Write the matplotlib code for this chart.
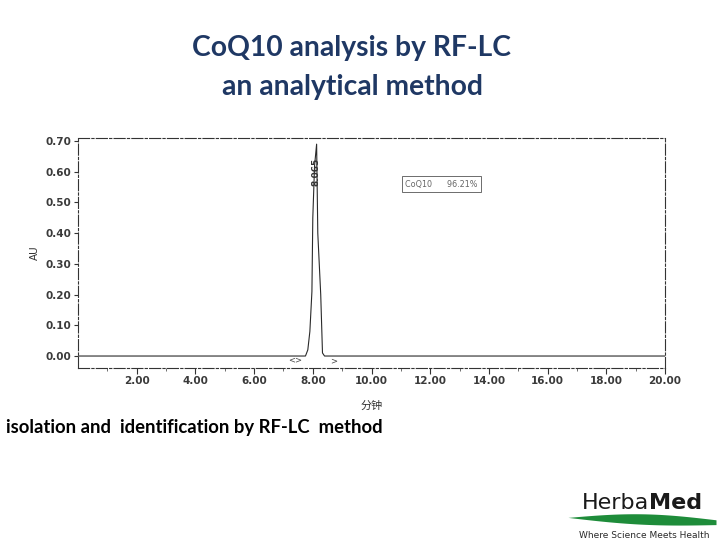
import matplotlib
matplotlib.use("Agg")
import matplotlib.pyplot as plt
import numpy as np

# ---- data ----
time_min = [0.0, 7.75, 7.83, 7.90, 7.97, 8.00, 8.06, 8.13, 8.17, 8.22, 8.27, 8.33, 8.40, 20.0]
au = [0.0, 0.0, 0.02, 0.08, 0.21, 0.45, 0.62, 0.69, 0.40, 0.30, 0.20, 0.01, 0.0, 0.0]
x_ticks = [2, 4, 6, 8, 10, 12, 14, 16, 18, 20]
x_tick_labels = ["2.00", "4.00", "6.00", "8.00", "10.00", "12.00", "14.00", "16.00", "18.00", "20.00"]
y_ticks = [0.0, 0.1, 0.2, 0.3, 0.4, 0.5, 0.6, 0.7]
y_tick_labels = ["0.00", "0.10", "0.20", "0.30", "0.40", "0.50", "0.60", "0.70"]
peak_time = 8.13
peak_label = "8.065"
legend_name = "CoQ10"
legend_value = "96.21%"

W, H = 720, 540
fig = plt.figure(figsize=(7.2, 5.4), dpi=100)
fig.patch.set_facecolor("white")

def fx(px):
    return px / W

def fy(py):
    return 1 - py / H

# Titles
title_color = "#1f3864"
fig.text(fx(352), fy(48), "CoQ10 analysis by RF-LC", ha="center", va="center",
         fontsize=20.3, fontfamily="Lato", fontweight="bold", color=title_color)
fig.text(fx(352), fy(87), "an analytical method", ha="center", va="center",
         fontsize=20.3, fontfamily="Lato", fontweight="bold", color=title_color)

# Chromatogram axes
ax = fig.add_axes([fx(78), fy(368), fx(665) - fx(78), fy(138) - fy(368)])
line_col = "#2a2a2a"
ax.plot(time_min, au, color=line_col, lw=0.8)
ax.set_xlim(0, 20)
ax.set_ylim(-0.039, 0.71)
ax.set_xticks(x_ticks)
ax.set_xticklabels(x_tick_labels)
ax.set_xticks(np.arange(1, 20, 1), minor=True)
ax.set_yticks(y_ticks)
ax.set_yticklabels(y_tick_labels)
ax.tick_params(axis="both", which="major", labelsize=7.5, colors="#333333",
               length=4, width=0.8, direction="out")
ax.tick_params(axis="y", which="major", pad=1.5, length=3)
ax.tick_params(axis="x", which="major", pad=2)
ax.tick_params(axis="x", which="minor", length=2, width=0.6, colors="#555555")
for lab in ax.get_xticklabels() + ax.get_yticklabels():
    lab.set_fontweight("bold")
    lab.set_color("#3a3a3a")
for sp in ax.spines.values():
    sp.set_color("#333333")
    sp.set_linewidth(0.8)
    sp.set_linestyle((0, (10, 2, 2, 2)))

ax.set_ylabel("AU", fontsize=7.5, color="#333333", labelpad=4)
ax.set_xlabel("分钟", fontsize=8, color="#333333", labelpad=10,
              fontfamily=["Noto Sans CJK SC", "DejaVu Sans"])

# peak label (rotated retention time)
ax.text(peak_time - 0.03, 0.645, peak_label, rotation=90, ha="center", va="top",
        fontsize=6.5, color="#333333", fontweight="bold")

# integration markers
ax.text(7.4, -0.013, "<>", ha="center", va="center", fontsize=6, color="#444444")
ax.text(8.7, -0.016, ">", ha="center", va="center", fontsize=6, color="#444444")

# legend box
ax.text(11.15, 0.56, legend_name + "      " + legend_value, ha="left", va="center",
        fontsize=5.8, color="#666666",
        bbox=dict(boxstyle="square,pad=0.45", facecolor="white", edgecolor="#555555", lw=0.6))

# Bottom caption
fig.text(fx(383), fy(428), "isolation and  identification by RF-LC  method",
         ha="right", va="center", fontsize=13.3, fontfamily="Lato", fontweight="bold",
         color="black")

# Logo
fig.text(fx(649), fy(509), "Herba", ha="right", va="baseline", fontsize=16,
         fontfamily="DejaVu Sans", color="#1a1a1a")
fig.text(fx(649), fy(509), "Med", ha="left", va="baseline", fontsize=16,
         fontfamily="DejaVu Sans", fontweight="bold", color="#1a1a1a")
lax = fig.add_axes([fx(568), fy(527), fx(716) - fx(568), fy(511) - fy(527)])
lax.set_xlim(0, 1)
lax.set_ylim(0, 1)
lax.axis("off")
sx = np.linspace(0, 1, 60)
upper = 0.6 + 0.3 * np.sin(np.pi * sx) - 0.15 * sx
lower = 0.6 - 0.2 * np.sin(np.pi * sx) - 0.45 * sx
lax.fill_between(sx, lower, upper, color="#1e8c3a", lw=0)
fig.text(fx(644), fy(535), "Where Science Meets Health", ha="center", va="center",
         fontsize=6.5, fontfamily="DejaVu Sans", color="#2a2a2a")

fig.savefig("out.png", dpi=100)
